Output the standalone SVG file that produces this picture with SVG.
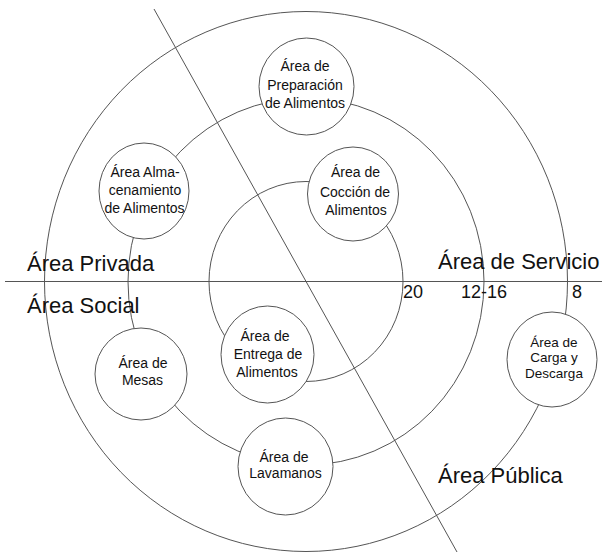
<svg xmlns="http://www.w3.org/2000/svg" width="602" height="552" viewBox="0 0 602 552">
<style>
.ln{fill:none;stroke:#555;stroke-width:1}
.nd{fill:#fff;stroke:#555;stroke-width:1}
.t{font-family:"Liberation Sans",Arial,sans-serif;font-size:14px;fill:#111;text-anchor:middle}
.s{font-size:13.5px}
.big{font-family:"Liberation Sans",Arial,sans-serif;font-size:22px;fill:#111}
.num{font-family:"Liberation Sans",Arial,sans-serif;font-size:18px;fill:#111}
</style>
<rect width="602" height="552" fill="#fff"/>
<g id="connectors">
<ellipse class="ln" cx="306" cy="281.5" rx="261.5" ry="270"/>
<ellipse class="ln" cx="306" cy="281.5" rx="178" ry="183.5"/>
<ellipse class="ln" cx="306" cy="281.5" rx="97" ry="100"/>
<line class="ln" x1="5" y1="281.5" x2="602" y2="281.5"/>
<line class="ln" x1="154" y1="9" x2="457" y2="552"/>
</g>
<g id="labels">
<text class="big" x="27" y="271">Área Privada</text>
<text class="big" x="27" y="313">Área Social</text>
<text class="big" x="438" y="269">Área de Servicio</text>
<text class="big" x="438" y="483">Área Pública</text>
<text class="num" x="403" y="298">20</text>
<text class="num" x="461" y="298">12-16</text>
<text class="num" x="572" y="298">8</text>
</g>
<g id="node-preparacion">
<ellipse class="nd" cx="306.5" cy="86.5" rx="47.5" ry="48.5"/>
<text class="t" x="305" y="71">Área de</text>
<text class="t" x="305" y="90">Preparación</text>
<text class="t" x="305" y="108">de Alimentos</text>
</g>
<g id="node-almacenamiento">
<ellipse class="nd" cx="144" cy="191" rx="45" ry="48"/>
<text class="t" x="145" y="177">Área Alma-</text>
<text class="t" x="145" y="195">cenamiento</text>
<text class="t" x="144.5" y="213">de Alimentos</text>
</g>
<g id="node-coccion">
<ellipse class="nd" cx="353" cy="194" rx="45.5" ry="47"/>
<text class="t" x="355.5" y="177">Área de</text>
<text class="t" x="355" y="197">Cocción de</text>
<text class="t" x="356" y="215">Alimentos</text>
</g>
<g id="node-entrega">
<ellipse class="nd" cx="267.5" cy="354.5" rx="46.5" ry="48.5"/>
<text class="t" x="265" y="341">Área de</text>
<text class="t" x="268" y="359">Entrega de</text>
<text class="t" x="267" y="377">Alimentos</text>
</g>
<g id="node-mesas">
<ellipse class="nd" cx="141" cy="374" rx="46" ry="46"/>
<text class="t" x="143" y="368">Área de</text>
<text class="t" x="142.5" y="385">Mesas</text>
</g>
<g id="node-lavamanos">
<ellipse class="nd" cx="285.5" cy="466.5" rx="47.5" ry="48.5"/>
<text class="t" x="284" y="462">Área de</text>
<text class="t" x="285.5" y="478">Lavamanos</text>
</g>
<g id="node-carga">
<ellipse class="nd" cx="552" cy="359.5" rx="45" ry="47.5"/>
<text class="t s" x="554" y="347">Área de</text>
<text class="t s" x="554" y="362">Carga y</text>
<text class="t s" x="554" y="378">Descarga</text>
</g>
</svg>
